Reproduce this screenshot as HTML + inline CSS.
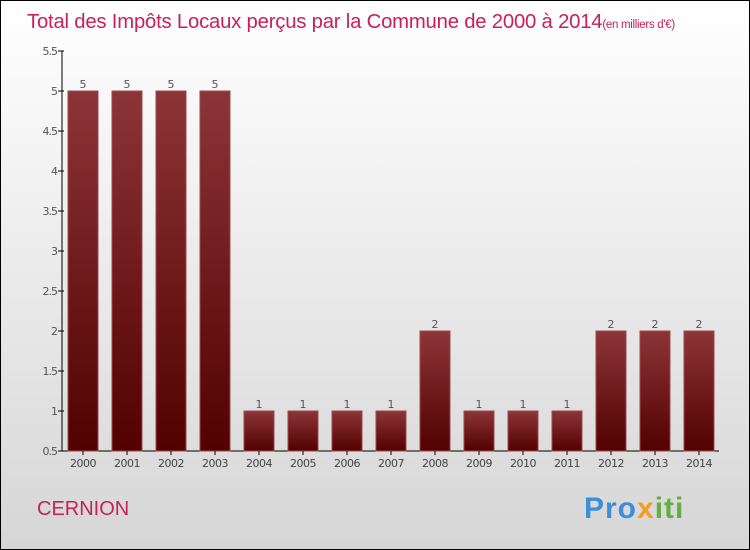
<!DOCTYPE html>
<html><head><meta charset="utf-8"><style>
body{margin:0}
#c{width:750px;height:550px;position:relative;box-sizing:border-box;border:1px solid #000;background:linear-gradient(#ffffff,#d6d6d6);font-family:"DejaVu Sans","Liberation Sans",sans-serif;overflow:hidden}
</style></head><body>
<div id="c">
<svg width="748" height="548" style="position:absolute;left:0;top:0" id="s">
<defs><linearGradient id="g" x1="0" y1="0" x2="0" y2="1"><stop offset="0" stop-color="#8c3538"/><stop offset="1" stop-color="#520000"/></linearGradient></defs>
<text x="26" y="27" font-size="20.3" fill="#c8205a" font-family="Liberation Sans, sans-serif" letter-spacing="-0.2">Total des Impôts Locaux perçus par la Commune de 2000 à 2014<tspan font-size="11.5" letter-spacing="-0.3">(en milliers d'€)</tspan></text>
<text x="36" y="514" font-size="20" fill="#c8205a" font-family="Liberation Sans, sans-serif">CERNION</text>
<text x="583" y="517" font-size="30" font-weight="bold" font-family="Liberation Sans, sans-serif" letter-spacing="1"><tspan fill="#3a8fd8">Pro</tspan><tspan fill="#f0a020">x</tspan><tspan fill="#60b040">iti</tspan></text>
<g id="plot"></g>
</svg>
</div>
<script>
const categories=["2000","2001","2002","2003","2004","2005","2006","2007","2008","2009","2010","2011","2012","2013","2014"];
const values=[5,5,5,5,1,1,1,1,2,1,1,1,2,2,2];
const yTicks=[0.5,1,1.5,2,2.5,3,3.5,4,4.5,5,5.5];
const yTickLabels=["0.5","1","1.5","2","2.5","3","3.5","4","4.5","5","5.5"];
const ns="http://www.w3.org/2000/svg";
const g=document.getElementById('plot');
const y=v=>450-(v-0.5)*80;
const x=i=>82+i*44;
function el(t,a){const e=document.createElementNS(ns,t);for(const k in a)e.setAttribute(k,a[k]);g.appendChild(e);return e;}
let ax=el('line',{x1:61,y1:50,x2:61,y2:450,stroke:'#000'});


let xa=el('line',{x1:61,y1:450,x2:718,y2:450,stroke:'#000'});


yTicks.forEach((v,i)=>{
 el('line',{x1:57,y1:y(v),x2:63,y2:y(v),stroke:'#000'});
 const t=el('text',{x:56,y:y(v)+4,'font-size':11,'text-anchor':'end',fill:'#555','letter-spacing':'-1'});
 t.textContent=yTickLabels[i];
 
 
});
categories.forEach((c,i)=>{
 const b=el('rect',{x:x(i)-15,y:y(values[i]),width:30,height:450-y(values[i]),fill:'url(#g)',stroke:'#9a4a4c','stroke-width':1});
 
 
 el('line',{x1:x(i),y1:450,x2:x(i),y2:454,stroke:'#000'});
 const t=el('text',{x:x(i),y:466,'font-size':11,'text-anchor':'middle',fill:'#444','letter-spacing':'-0.5'});
 t.textContent=c;
 
 
 const v=el('text',{x:x(i),y:y(values[i])-3,'font-size':11,'text-anchor':'middle',fill:'#555'});
 v.textContent=values[i];
 
 
});
</script>
</body></html>
